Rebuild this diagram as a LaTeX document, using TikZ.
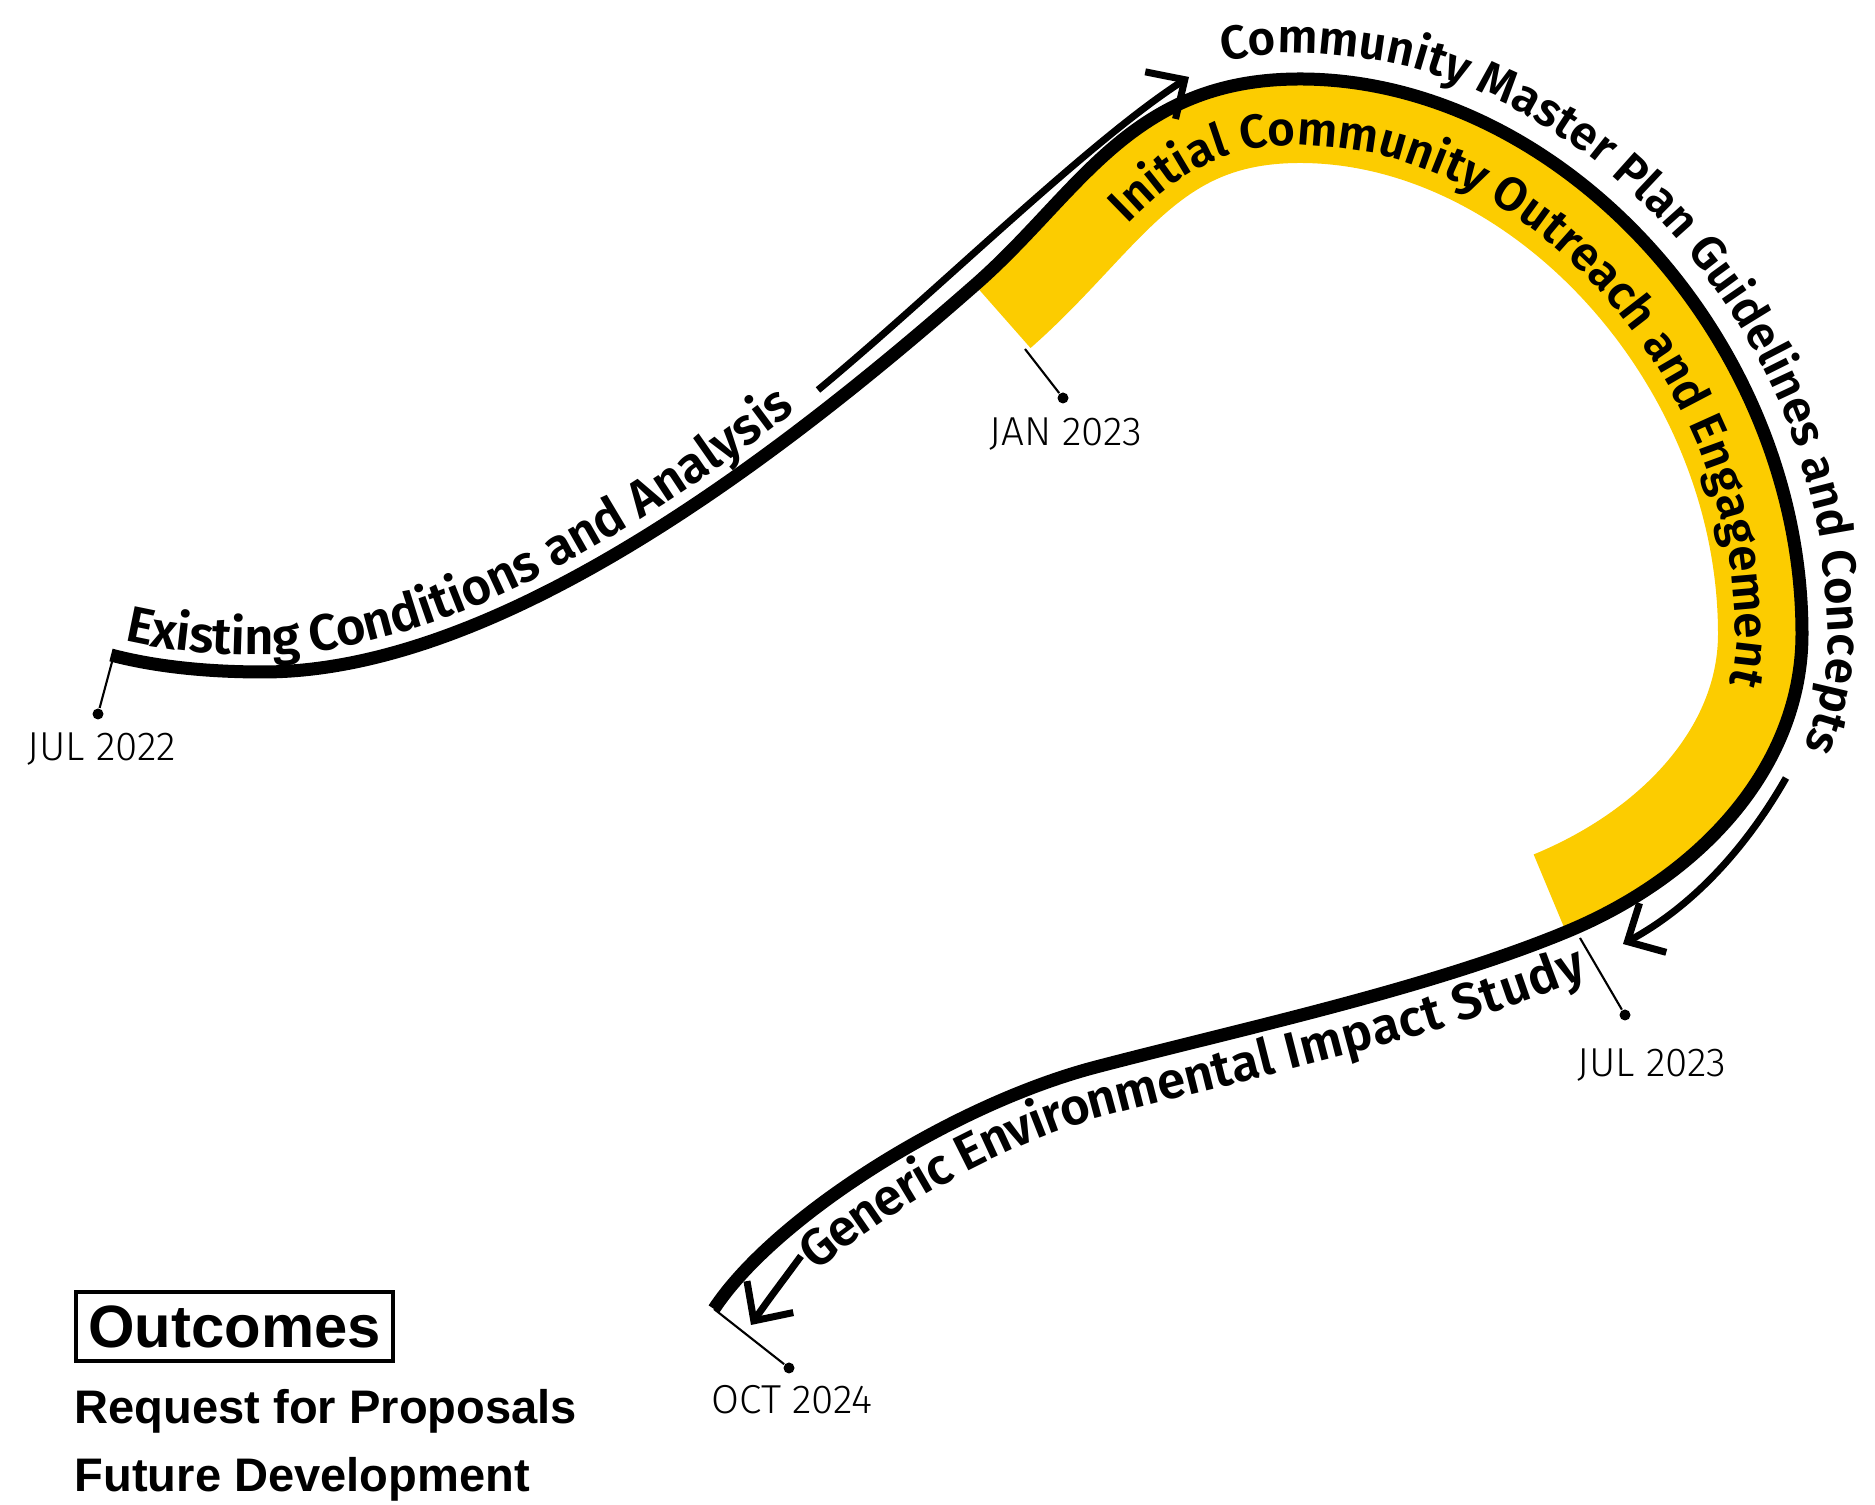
\documentclass[tikz,border=0pt]{standalone}
\usepackage{fontspec}
\setmainfont{Fira Sans}
\IfFontExistsTF{Fira Sans SemiBold}
  {\newfontfamily\pathfont{Fira Sans SemiBold}}
  {\newfontfamily\pathfont{Fira Sans}[UprightFont={* Bold}]}
\IfFontExistsTF{Fira Sans Light}
  {\newfontfamily\datefont{Fira Sans Light}}
  {\newfontfamily\datefont{Fira Sans}}
\newfontfamily\outfont{Liberation Sans}
\usetikzlibrary{positioning}
\usetikzlibrary{arrows.meta, decorations.text, calc}
\definecolor{bandyellow}{HTML}{FCCC00}
\newcommand{\pathstyle}{\pathfont\fontsize{14.5}{17}\selectfont}
\newcommand{\archstyle}{\pathfont\fontsize{13.5}{16}\selectfont}
\tikzstyle{timearrow} = [line width=0.07cm, -{Straight Barb[length=0.29cm, width=0.56cm]}]

\begin{document}
\begin{tikzpicture}[
  mainline/.style={line width=0.13cm},
  band/.style={draw=bandyellow, line width=1.68cm},
  tick/.style={line width=0.6pt},
  dot/.style={circle, fill=black, inner sep=0pt, minimum size=0.11cm},
  date/.style={font=\datefont\fontsize{11.5}{13}\selectfont, inner sep=0pt},
  outcome/.style={font=\outfont\bfseries\fontsize{13.4}{16}\selectfont, anchor=base west, inner sep=0pt}
]
\useasboundingbox (0,0) rectangle (18.75,-15.05);

\coordinate (A) at (1.11,-6.55);
\coordinate (L) at (2.63,-6.72);
\coordinate (B) at (9.75,-2.85);
\coordinate (T) at (13.00,-0.79);
\coordinate (R) at (18.02,-6.34);
\coordinate (E) at (15.66,-9.32);
\coordinate (M) at (10.96,-10.67);
\coordinate (F) at (7.14,-13.09);

\coordinate (al1) at (1.60,-6.68);
\coordinate (al2) at (2.15,-6.72);
\coordinate (lb1) at (5.03,-6.72);
\coordinate (lb2) at (7.87,-4.50);
\coordinate (bt1) at (10.80,-1.93);
\coordinate (bt2) at (11.30,-0.79);
\coordinate (tr1) at (15.60,-0.79);
\coordinate (tr2) at (18.02,-3.40);
\coordinate (re1) at (18.02,-7.64);
\coordinate (re2) at (17.04,-8.75);
\coordinate (em1) at (14.28,-9.89);
\coordinate (em2) at (12.41,-10.29);
\coordinate (mf1) at (9.51,-11.05);
\coordinate (mf2) at (7.74,-12.18);

\coordinate (B2) at (10.52,-4.17);
\coordinate (E2) at (14.81,-8.05);

\foreach \p/\c/\d/\q [count=\j from 0] in {B/bt1/bt2/T, T/tr1/tr2/R, R/re1/re2/E} {
  \foreach \i in {0,...,7} {
    \pgfmathsetmacro{\ta}{\i/8}
    \pgfmathsetmacro{\tb}{\i/8+0.01}
    \pgfmathtruncatemacro{\k}{\j*8+\i}
    \path (\p) .. controls (\c) and (\d) .. (\q)
      coordinate[pos=\ta] (p\k) coordinate[pos=\tb] (q\k);
    \coordinate (in\k) at ($(p\k)!0.66cm!-90:(q\k)$);
    \coordinate (out\k) at ($(p\k)!0.26cm!90:(q\k)$);
  }
}
\path (R) .. controls (re1) and (re2) .. (E) coordinate[pos=1] (p24) coordinate[pos=0.99] (q24);
\coordinate (in24) at ($(p24)!0.66cm!90:(q24)$);
\coordinate (out24) at ($(p24)!0.26cm!-90:(q24)$);

\begin{scope}
  \clip (B) .. controls (bt1) and (bt2) .. (T) .. controls (tr1) and (tr2) .. (R)
    .. controls (re1) and (re2) .. (E) -- (E2) -- (B2) -- cycle;
  \draw[band] (B) .. controls (bt1) and (bt2) .. (T) .. controls (tr1) and (tr2) .. (R)
    .. controls (re1) and (re2) .. (E);
\end{scope}

\draw[mainline] (A) .. controls (al1) and (al2) .. (L)
  .. controls (lb1) and (lb2) .. (B)
  .. controls (bt1) and (bt2) .. (T)
  .. controls (tr1) and (tr2) .. (R)
  .. controls (re1) and (re2) .. (E)
  .. controls (em1) and (em2) .. (M)
  .. controls (mf1) and (mf2) .. (F);

\coordinate (a1s) at (8.18,-3.90);
\coordinate (a1t) at (11.89,-0.77);
\coordinate (a2s) at (17.86,-7.78);
\coordinate (a2t) at (16.23,-9.44);
\coordinate (a3s) at (8.01,-12.56);
\coordinate (a3t) at (7.51,-13.25);
\draw[timearrow] (a1s) .. controls (9.34,-2.94) and (10.88,-1.42) .. (a1t);
\draw[timearrow] (a2s) .. controls (17.46,-8.48) and (16.93,-9.06) .. (a2t);
\draw[timearrow] (a3s) .. controls (7.85,-12.78) and (7.68,-13.00) .. (a3t);

\path[decorate, decoration={text along path, raise=0.17cm,
  text align={left, left indent=0.10cm},
  text={|\pathstyle|Existing Conditions and Analysis}}]
  (A) .. controls (al1) and (al2) .. (L) .. controls (lb1) and (lb2) .. (B)
  .. controls (bt1) and (bt2) .. (T);
\path[decorate, decoration={text along path,
  text align={left, left indent=3.4cm},
  text={|\archstyle|Community Master Plan Guidelines and Concepts}}]
  plot[smooth] coordinates {(out0) (out1) (out2) (out3) (out4) (out5) (out6) (out7)
    (out8) (out9) (out10) (out11) (out12) (out13) (out14) (out15) (out16) (out17)
    (out18) (out19) (out20) (out21) (out22) (out23) (out24)};
\path[decorate, decoration={text along path,
  text align={left, left indent=1.55cm},
  text={|\archstyle|Initial Community Outreach and Engagement}}]
  plot[smooth] coordinates {(in0) (in1) (in2) (in3) (in4) (in5) (in6) (in7)
    (in8) (in9) (in10) (in11) (in12) (in13) (in14) (in15) (in16) (in17)
    (in18) (in19) (in20) (in21) (in22) (in23) (in24)};
\path[decorate, decoration={text along path, raise=-0.5cm,
  text align={left, left indent=1.05cm},
  text={|\pathstyle|Generic Environmental Impact Study}}]
  (F) .. controls (mf2) and (mf1) .. (M) .. controls (em2) and (em1) .. (E)
  .. controls (re2) and (re1) .. (R);

\coordinate (s22) at (1.12,-6.62);
\coordinate (s23a) at (10.25,-3.49);
\coordinate (s23b) at (15.80,-9.38);
\node[dot] (d22) at (0.98,-7.14) {};
\node[dot] (d23a) at (10.63,-3.98) {};
\node[dot] (d23b) at (16.25,-10.15) {};
\node[dot] (d24) at (7.89,-13.68) {};
\draw[tick] (s22) -- (d22);
\draw[tick] (s23a) -- (d23a);
\draw[tick] (s23b) -- (d23b);
\draw[tick] (F) -- (d24);

\node[date] (l22) at (1.02,-7.49) {JUL 2022};
\node[date] (l23a) at (10.66,-4.34) {JAN 2023};
\node[date] (l23b) at (16.52,-10.65) {JUL 2023};
\node[date] (l24) at (7.92,-14.00) {OCT 2024};

\node[draw, line width=0.04cm, minimum width=3.17cm, minimum height=0.69cm, inner sep=0pt,
  font=\outfont\bfseries\fontsize{17}{20}\selectfont] (outc) at (2.345,-13.265) {Outcomes};
\node[outcome] (rfp) at (0.74,-14.24) {Request for Proposals};
\node[outcome] (fdev) at (0.74,-14.92) {Future Development};

\end{tikzpicture}
\end{document}
